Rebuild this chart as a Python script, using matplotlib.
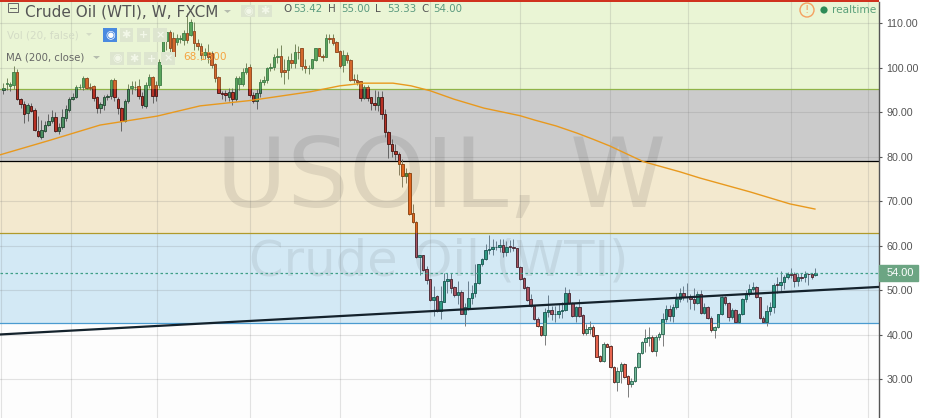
import matplotlib
matplotlib.use("Agg")
import matplotlib.pyplot as plt
from matplotlib.patches import Rectangle, Circle, Polygon

# weekly candles
opens = [95.0, 96.3, 95.9, 96.1, 98.9, 92.9, 91.9, 89.7, 91.4, 90.5, 85.8, 84.5, 85.8, 87.0, 87.9, 88.8, 85.8, 86.6, 88.6, 90.5,
         92.9, 93.5, 95.6, 95.6, 97.6, 95.7, 95.8, 93.3, 90.9, 91.6, 93.4, 93.6, 97.2, 92.9, 90.9, 88.1, 92.6, 95.5, 95.7, 95.9,
         93.7, 91.4, 96.1, 97.8, 96.1, 96.1, 103.3, 105.9, 108.0, 106.7, 105.8, 106.3, 106.2, 107.7, 107.4, 108.3, 105.6, 104.8, 102.8, 103.6,
         103.3, 100.7, 97.8, 94.4, 94.2, 93.5, 94.6, 93.0, 96.2, 96.3, 99.1, 100.2, 93.8, 92.6, 94.2, 96.7, 97.2, 99.8, 100.2, 102.3,
         102.5, 99.5, 99.5, 101.7, 101.0, 103.6, 104.3, 100.4,
         99.8, 99.8, 101.7, 104.3, 102.7, 102.4, 106.6, 106.6, 105.7, 103.7, 100.5, 102.8, 101.8, 97.4, 97.3, 96.9, 93.2, 95.7,
         93.3, 92.0, 91.5, 93.3, 89.5, 85.5, 82.8, 81.2, 80.5, 78.3, 75.7, 76.4, 67.3, 65.4,
         57.4, 57.9, 54.7, 52.5, 47.9, 48.7, 45.4, 47.5, 52.0, 52.5, 50.7, 49.0, 49.6, 44.8, 46.1, 48.2, 49.3, 51.6, 55.9, 57.0,
         59.0, 59.2, 59.7, 59.8, 60.1, 58.7, 59.9, 59.7, 59.4, 55.3, 52.7, 50.7, 48.0, 46.5, 43.5, 41.9, 40.0, 45.1, 45.5, 44.6,
         44.6, 45.3, 45.6, 49.3, 47.1, 44.3, 46.2, 44.4, 40.5, 41.3, 41.7, 39.9, 35.3, 34.2, 37.9, 37.5, 32.8, 29.5, 32.0, 33.4,
         30.8, 28.9, 29.6, 32.7, 35.9, 38.3, 39.2, 39.5, 36.5, 39.5, 40.1, 43.5,
         45.8, 44.3, 46.2, 48.1, 49.3, 48.5, 48.5, 48.0, 47.2, 49.1, 45.0, 46.2, 43.9, 41.2, 41.7, 44.6, 48.4, 47.1, 44.1, 45.6,
         43.0, 44.7, 48.0, 49.3, 50.2, 50.7, 48.4, 43.9, 43.0, 45.4, 46.3, 51.4, 51.3, 51.8, 52.9, 53.6, 53.6, 52.2, 52.9, 52.9,
         53.7, 53.6, 53.42]
highs = [96.5, 97.6, 96.8, 100.4, 99.6, 93.1, 92.5, 92.0, 92.0, 91.0, 89.2, 88.2, 88.0, 89.6, 90.5, 90.0, 87.5, 90.6, 91.5, 93.5,
         94.3, 96.1, 96.3, 98.0, 97.8, 96.5, 96.0, 93.6, 92.2, 93.8, 94.0, 97.4, 97.6, 93.5, 91.2, 93.0, 96.2, 97.0, 97.0, 97.5,
         94.5, 96.8, 98.5, 98.2, 97.0, 102.0, 107.0, 108.5, 108.5, 108.0, 107.5, 107.2, 108.5, 112.2, 110.8, 110.3, 106.5, 105.5, 104.5, 105.3,
         103.7, 101.0, 98.0, 94.8, 95.0, 95.5, 95.5, 98.0, 98.2, 100.0, 101.0, 100.8, 94.5, 95.2, 97.5, 98.0, 100.2, 101.0, 103.0, 104.3,
         105.0, 102.0, 102.7, 103.3, 105.3, 104.8, 104.5, 102.0,
         100.5, 102.0, 104.5, 104.5, 103.0, 107.5, 107.5, 107.5, 105.9, 104.0, 104.0, 103.5, 102.0, 98.5, 98.5, 97.0, 96.0, 96.0,
         93.5, 95.0, 94.8, 94.8, 90.7, 85.8, 84.0, 82.8, 81.0, 79.5, 77.5, 76.6, 69.4, 65.6,
         58.0, 58.0, 55.5, 52.6, 51.0, 49.0, 51.0, 54.0, 54.0, 54.0, 51.0, 52.2, 50.0, 47.2, 52.2, 51.2, 56.0, 56.0, 57.3, 60.5,
         62.4, 61.5, 61.0, 61.5, 61.5, 61.0, 61.3, 61.5, 59.6, 55.5, 53.0, 51.0, 49.2, 46.7, 44.0, 42.1, 46.0, 48.9, 46.5, 46.4,
         47.0, 47.5, 50.7, 50.2, 47.3, 46.5, 48.0, 44.6, 42.5, 43.2, 42.3, 40.0, 35.5, 38.3, 38.1, 37.7, 33.0, 32.7, 34.0, 33.6,
         31.0, 30.3, 33.0, 36.2, 38.7, 41.4, 41.7, 40.0, 39.9, 40.7, 45.0, 46.7,
         46.7, 47.0, 49.3, 50.6, 51.0, 51.7, 49.2, 50.5, 49.9, 50.0, 47.2, 46.4, 44.2, 42.0, 44.8, 48.8, 48.7, 47.3, 46.0, 45.8,
         45.0, 48.2, 50.0, 51.5, 51.9, 51.0, 48.6, 44.3, 46.7, 47.3, 51.6, 53.0, 54.3, 53.5, 54.2, 55.0, 54.2, 54.0, 53.8, 54.3,
         53.9, 54.0, 55.0]
lows = [94.0, 95.0, 94.8, 95.2, 92.7, 91.0, 87.6, 87.9, 90.0, 85.7, 84.5, 84.0, 85.5, 86.8, 87.5, 85.5, 85.0, 86.2, 88.0, 90.0,
        92.7, 93.2, 95.2, 95.0, 95.3, 95.0, 92.4, 89.8, 89.8, 90.5, 92.8, 93.0, 92.5, 89.5, 85.7, 87.8, 92.0, 94.0, 95.0, 93.0,
        91.0, 91.0, 95.5, 92.0, 92.5, 95.5, 101.0, 104.0, 102.5, 102.0, 105.0, 105.5, 105.0, 105.5, 107.0, 103.9, 104.0, 101.8, 102.0, 101.0,
        100.0, 96.8, 94.2, 93.0, 92.5, 92.5, 91.5, 92.5, 95.0, 95.8, 98.5, 93.5, 92.0, 90.8, 93.5, 96.0, 96.5, 99.3, 99.5, 101.0,
        97.8, 96.2, 97.5, 100.0, 100.0, 102.0, 99.5, 98.7,
        98.5, 99.7, 101.5, 102.5, 101.5, 102.3, 105.5, 105.0, 103.5, 100.0, 99.0, 101.0, 97.0, 96.5, 96.0, 92.6, 93.0, 92.5,
        90.5, 90.5, 90.3, 88.5, 84.5, 79.8, 80.0, 79.3, 76.0, 73.2, 74.0, 67.0, 65.2, 57.2,
        53.4, 54.4, 51.5, 47.7, 44.3, 45.2, 43.6, 47.3, 49.5, 49.5, 48.5, 47.0, 44.7, 42.1, 45.5, 47.0, 48.5, 51.5, 55.5, 56.8,
        58.2, 58.0, 59.0, 58.5, 57.5, 57.7, 58.5, 58.8, 55.2, 52.3, 50.3, 47.7, 46.3, 43.3, 41.7, 39.8, 37.8, 44.0, 43.4, 43.0,
        43.8, 43.8, 45.3, 47.0, 44.1, 42.8, 44.1, 40.0, 39.9, 40.2, 39.5, 35.0, 34.0, 34.0, 37.2, 32.5, 29.3, 27.4, 29.3, 30.4,
        26.0, 28.3, 29.4, 32.5, 35.7, 36.2, 37.6, 36.2, 35.2, 38.9, 37.5, 43.0,
        43.2, 43.0, 45.8, 47.5, 47.8, 47.5, 45.8, 45.5, 47.0, 44.8, 44.7, 43.6, 40.6, 39.2, 41.5, 44.4, 46.7, 43.2, 43.5, 42.8,
        42.7, 44.5, 47.5, 48.7, 49.8, 48.2, 43.6, 42.8, 42.0, 44.5, 45.0, 49.5, 49.6, 50.4, 52.5, 52.8, 50.7, 51.0, 52.0, 51.8,
        51.3, 52.5, 53.33]
closes = [95.5, 96.6, 96.2, 98.9, 92.9, 91.8, 89.6, 91.5, 90.3, 86.0, 84.7, 86.0, 87.0, 87.9, 88.8, 85.8, 86.6, 88.8, 90.7, 92.9,
          93.5, 95.6, 95.7, 97.6, 95.5, 95.5, 93.2, 90.9, 91.8, 93.5, 93.7, 97.2, 93.5, 90.9, 88.1, 92.6, 95.3, 95.8, 95.6, 93.7,
          91.6, 96.1, 97.8, 93.6, 93.6, 101.3, 105.9, 108.0, 104.5, 102.6, 106.7, 106.6, 107.7, 106.2, 110.2, 105.6, 104.9, 102.8, 103.6, 102.4,
          100.6, 97.7, 94.4, 94.0, 93.8, 94.6, 92.9, 97.6, 97.6, 99.1, 100.0, 93.8, 92.6, 94.2, 96.7, 97.2, 99.8, 100.2, 102.3, 102.5,
          98.9, 98.9, 101.6, 101.0, 103.6, 103.5, 100.4, 99.8,
          99.8, 101.85, 104.3, 102.7, 102.4, 106.6, 106.5, 105.6, 103.6, 100.4, 102.8, 101.7, 97.2, 97.3, 96.8, 93.2, 95.7, 93.2,
          92.0, 91.5, 93.3, 89.5, 85.5, 82.8, 81.2, 80.5, 78.3, 75.7, 76.4, 67.1, 65.4, 57.4,
          57.9, 54.6, 52.3, 47.85, 48.6, 45.4, 47.6, 52.0, 52.5, 50.6, 49.0, 49.6, 44.8, 46.2, 48.2, 49.3, 51.6, 55.9, 57.0, 59.0,
          59.2, 59.7, 59.8, 60.1, 58.7, 59.8, 59.7, 59.4, 55.3, 52.6, 50.6, 47.9, 46.5, 43.5, 41.9, 40.0, 45.1, 45.6, 44.6, 44.6,
          45.3, 45.6, 49.3, 47.1, 44.3, 46.2, 44.3, 40.5, 41.3, 41.7, 39.8, 35.1, 34.2, 37.9, 37.4, 32.7, 29.5, 32.0, 33.4, 30.6,
          28.9, 29.6, 32.7, 35.9, 38.3, 39.2, 39.5, 36.5, 39.5, 40.1, 43.5, 45.8,
          44.3, 46.2, 48.1, 49.3, 48.4, 48.4, 48.0, 47.2, 49.1, 45.0, 46.2, 43.9, 41.2, 41.7, 44.6, 48.6, 47.1, 44.1, 45.6, 43.0,
          44.7, 48.0, 49.3, 50.2, 50.7, 48.4, 43.9, 43.0, 45.4, 46.3, 51.3, 51.3, 51.8, 52.9, 53.6, 53.5, 52.2, 52.9, 52.8, 53.7,
          53.6, 53.1, 54.0]

# 200 week moving average
ma_bars = [-1, 13.5, 27.9, 44.3, 56.7, 71.1, 88.7, 97, 104, 112.3, 117.5, 123, 129.9, 138.5, 148.9, 153.2, 159.3, 165.3, 170,
           174.8, 184.4, 195, 200.8, 215.2, 226.7, 233.9]
ma_values = [80.4, 83.7, 87.1, 89.1, 91.4, 92.6, 94.6, 95.9, 96.5, 96.5, 95.9, 94.8, 92.9, 90.9, 89.2, 88.2, 86.9, 85.3, 83.9,
             82.4, 78.9, 76.6, 75.2, 72.1, 69.4, 68.25]

# hand drawn trend line
trend_bars = [-1, 253]
trend_values = [40.1, 50.8]

last_price = 54.0
price_ticks = [30, 40, 50, 60, 70, 80, 90, 100, 110]
grid_bars = [-0.7, 19.4, 44.2, 71.1, 97.1, 123, 148.9, 174.8, 197.2, 227.1, 249.1]

# zone: low, high, fill, up body, down body, up edge, down edge, wick
zones = [
    (95.12, 120, "#eaf5d5", "#5aa55c", "#d4682c", "#44804a", "#8f4a22", "#7a8a60"),
    (78.96, 95.12, "#cbcbcb", "#4a9060", "#b83024", "#2a4a38", "#4a1a18", "#666666"),
    (62.8, 78.96, "#f3e9cf", "#5e8a3a", "#e2651e", "#44662c", "#8a4412", "#8a8060"),
    (42.6, 62.8, "#d3e9f5", "#2e9a84", "#a8525e", "#1f5a55", "#4a2a35", "#6a8090"),
    (0, 42.6, "#fdfdfd", "#74b899", "#e8654f", "#2f6a55", "#5a2a25", "#808080"),
]
zone_lines = [(95.12, "#8fb347"), (78.96, "#000000"), (62.8, "#b09a2b"), (42.6, "#4a9bd0")]

W, H = 933, 418
BAR_PX = 3.47
fig = plt.figure(figsize=(W / 100, H / 100), dpi=100)
ax = fig.add_axes([0, 0, 879 / W, 416 / H])
ax.set_xlim(-3.3 / BAR_PX, (879 - 3.3) / BAR_PX)
ax.set_ylim(110 - 395 / 4.456, 110 + 21 / 4.456)

xs = list(range(len(opens)))
ups = [i for i in xs if closes[i] >= opens[i]]
downs = [i for i in xs if closes[i] < opens[i]]

for lo, hi, fill, up_c, down_c, up_e, down_e, wick in zones:
    ax.axhspan(lo, hi, color=fill, lw=0, zorder=0)
    clip = Rectangle((-10, lo), 300, hi - lo, transform=ax.transData)
    lines = ax.vlines(xs, lows, highs, color=wick, lw=0.72, zorder=3)
    lines.set_clip_path(clip)
    for idx, color, edge in [(ups, up_c, up_e), (downs, down_c, down_e)]:
        bars = ax.bar([xs[i] for i in idx],
                      [abs(closes[i] - opens[i]) for i in idx],
                      bottom=[min(opens[i], closes[i]) for i in idx],
                      width=2.5 / BAR_PX, color=color, edgecolor=edge, linewidth=0.65, zorder=4)
        for b in bars:
            b.set_clip_path(clip)

# grid sits under the candles, translucent so it picks up the zone colour
for p in price_ticks:
    ax.axhline(p, color=(0.47, 0.47, 0.47, 0.2), lw=0.8, zorder=1)
for b in grid_bars:
    ax.axvline(b, color=(0.47, 0.47, 0.47, 0.2), lw=0.8, zorder=1)
for p, c in zone_lines:
    ax.axhline(p, color=c, lw=0.9, zorder=2)

# watermark
ax.text(126.3, 68.8, "USOIL, W", fontsize=70, color="#000000", alpha=0.085, ha="center", va="baseline", zorder=1.5)
ax.text(125.4, 53.4, "Crude Oil (WTI)", fontsize=35.7, color="#000000", alpha=0.07, ha="center", va="baseline", zorder=1.5)

ax.plot(ma_bars, ma_values, color="#e8991e", lw=1.0, zorder=5)
ax.plot(trend_bars, trend_values, color="#14222c", lw=1.6, zorder=6)
ax.axhline(last_price, color="#3f9f86", lw=0.9, ls=(0, (2, 2)), zorder=5)

# price axis
ax.yaxis.tick_right()
ax.set_yticks(price_ticks)
ax.set_yticklabels([f"{p:.2f}" for p in price_ticks], fontsize=7.7, color="#555555", family="Liberation Sans")
ax.tick_params(axis="y", length=2.5, width=0.8, color="#555555", pad=3)
ax.set_xticks([])
for side in ["top", "left", "bottom"]:
    ax.spines[side].set_visible(False)
ax.spines["right"].set_color("#555555")
ax.spines["right"].set_linewidth(1.0)

price_box = Rectangle((1.0, last_price - 1.8), 38.5 / 879, 3.6, transform=ax.get_yaxis_transform(),
                      color="#6ca583", clip_on=False, zorder=7)
ax.add_patch(price_box)
ax.text(1 + 7.5 / 879, last_price, "54.00", transform=ax.get_yaxis_transform(), fontsize=7.9,
        color="white", family="Liberation Sans", va="center", ha="left", zorder=8)

# header overlay in pixel space
ov = fig.add_axes([0, 0, 1, 1], facecolor="none", zorder=10)
ov.set_xlim(0, W)
ov.set_ylim(H, 0)
ov.axis("off")

ov.add_patch(Rectangle((0, 0), 879, 1.6, color="#d0321e", lw=0))
ov.add_patch(Rectangle((8, 3), 10, 9, fill=False, edgecolor="#666666", lw=0.7))
ov.plot([10, 16], [7.5, 7.5], color="#666666", lw=0.7)
ov.text(25, 12, "Crude Oil (WTI), W, FXCM", fontsize=11, color="#555555", va="center")
ov.add_patch(Polygon([(224, 10), (231, 10), (227.5, 13)], color="#b5bcae", lw=0))


def button(x, y, w, h, glyph, color="#dde5cf", text_color="#f2f7e8"):
    ov.add_patch(Rectangle((x, y), w, h, color=color, lw=0))
    ov.text(x + w / 2, y + h / 2, glyph, fontsize=8, color=text_color, ha="center", va="center", weight="bold")


button(241, 5, 14, 12, "◉")
button(258, 5, 14, 12, "✱")
ov.text(7, 35, "Vol (20, false)", fontsize=7.5, color="#d4dcc6", va="center")
ov.add_patch(Polygon([(86, 33), (92, 33), (89, 36)], color="#d4dcc6", lw=0))
button(103, 28, 14, 14, "◉", color="#4a8ae0", text_color="white")
button(120, 28, 13, 14, "✱")
button(137, 28, 13, 14, "+")
button(153, 28, 14, 14, "×")
ov.text(6, 57.5, "MA (200, close)", fontsize=7.3, color="#666666", va="center")
ov.add_patch(Polygon([(93, 56), (100, 56), (96.5, 59)], color="#b5bcae", lw=0))
button(110, 52, 14, 13, "◉")
button(127, 52, 14, 13, "✱")
button(144, 52, 14, 13, "+")
button(161, 52, 14, 13, "×")
ov.text(183, 57.5, "68.1300", fontsize=7.6, color="#f5a340", va="center")

for x, label, color in [(283, "O", "#555555"), (293, "53.42", "#5b9a7f"), (328, "H", "#555555"), (341, "55.00", "#5b9a7f"),
                        (375, "L", "#555555"), (387, "53.33", "#5b9a7f"), (421, "C", "#555555"), (433, "54.00", "#5b9a7f")]:
    ov.text(x, 9, label, fontsize=7.4, color=color, va="center")

ov.add_patch(Circle((807, 10), 7, fill=False, edgecolor="#f5a060", lw=1.0))
ov.text(807, 10, "!", fontsize=8, color="#f5a060", ha="center", va="center")
ov.add_patch(Circle((824, 10), 3.6, color="#2e8b57", lw=0))
ov.text(832, 10, "realtime", fontsize=7.6, color="#5aa07a", va="center")

fig.savefig("out.png", dpi=100)
